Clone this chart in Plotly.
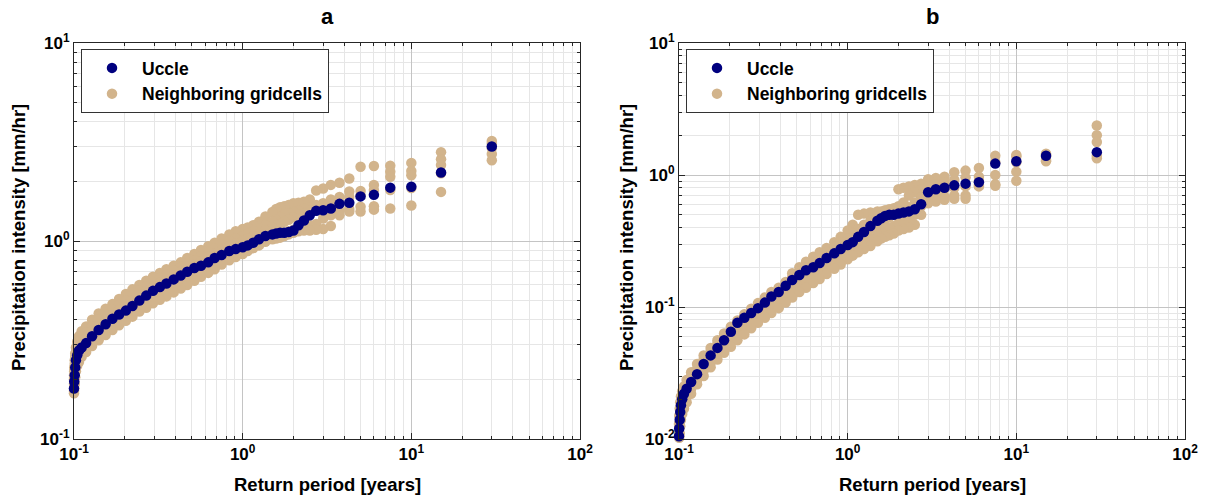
import plotly.graph_objects as go

# Return period [years] (same ranks for every series)
return_period = [30, 15, 10, 7.5, 6, 5,
                 4.286, 3.75, 3.333, 3.0,
                 2.727, 2.5, 2.308, 2.143, 2.0,
                 1.875, 1.765, 1.667, 1.579, 1.5,
                 1.364, 1.25, 1.154, 1.071, 1.0,
                 0.909, 0.833, 0.75, 0.682, 0.625,
                 0.566, 0.517, 0.469, 0.429, 0.390,
                 0.353, 0.323, 0.294, 0.268, 0.244,
                 0.222, 0.203, 0.185, 0.169, 0.154,
                 0.140, 0.128, 0.118, 0.111, 0.107,
                 0.1045, 0.1027, 0.1017, 0.101, 0.1003, 0.1]

# ---------- panel a ----------
uccle_a = [3.0, 2.22, 1.88, 1.86, 1.71, 1.68,
           1.56, 1.54, 1.46, 1.43,
           1.42, 1.35, 1.27, 1.20, 1.13,
           1.11, 1.10, 1.10, 1.09, 1.08,
           1.06, 1.02, 0.98, 0.95, 0.93,
           0.91, 0.89, 0.85, 0.82, 0.78,
           0.75, 0.73, 0.70, 0.67, 0.64,
           0.61, 0.585, 0.56, 0.53, 0.50,
           0.47, 0.445, 0.425, 0.405, 0.38,
           0.355, 0.33, 0.305, 0.29, 0.28,
           0.265, 0.25, 0.23, 0.21, 0.195, 0.18]
neigh_a_1 = [3.2, 2.81, 2.48, 2.40, 2.39, 2.37,
             2.07, 1.97, 1.92, 1.84,
             1.80, 1.62, 1.58, 1.56, 1.55,
             1.52, 1.50, 1.48, 1.45, 1.40,
             1.33, 1.25, 1.20, 1.17, 1.15,
             1.12, 1.08, 1.03, 0.98, 0.94,
             0.90, 0.86, 0.82, 0.78, 0.75,
             0.72, 0.69, 0.66, 0.63, 0.60,
             0.57, 0.54, 0.51, 0.48, 0.455,
             0.43, 0.40, 0.37, 0.35, 0.33,
             0.31, 0.29, 0.27, 0.25, 0.23, 0.21]
neigh_a_2 = [3.1, 2.59, 2.26, 2.24, 1.92, 1.79,
             1.78, 1.67, 1.62, 1.55,
             1.52, 1.48, 1.45, 1.42, 1.40,
             1.38, 1.36, 1.32, 1.28, 1.25,
             1.20, 1.16, 1.12, 1.09, 1.06,
             1.03, 1.00, 0.96, 0.92, 0.88,
             0.84, 0.80, 0.77, 0.74, 0.71,
             0.68, 0.65, 0.62, 0.59, 0.56,
             0.53, 0.50, 0.475, 0.45, 0.425,
             0.40, 0.37, 0.345, 0.325, 0.31,
             0.29, 0.275, 0.26, 0.24, 0.22, 0.20]
neigh_a_3 = [2.95, 2.42, 2.15, 2.11, 1.81, 1.70,
             1.67, 1.55, 1.48, 1.45,
             1.44, 1.42, 1.38, 1.35, 1.32,
             1.28, 1.25, 1.22, 1.20, 1.17,
             1.13, 1.09, 1.06, 1.03, 1.00,
             0.97, 0.94, 0.90, 0.86, 0.83,
             0.79, 0.76, 0.73, 0.70, 0.67,
             0.64, 0.615, 0.59, 0.56, 0.53,
             0.50, 0.475, 0.45, 0.425, 0.40,
             0.375, 0.35, 0.325, 0.305, 0.29,
             0.275, 0.26, 0.245, 0.225, 0.205, 0.19]
neigh_a_4 = [2.75, 2.2, 1.85, 1.81, 1.50, 1.49,
             1.45, 1.42, 1.35, 1.30,
             1.22, 1.20, 1.18, 1.16, 1.14,
             1.12, 1.10, 1.08, 1.07, 1.06,
             1.03, 0.99, 0.96, 0.93, 0.90,
             0.87, 0.84, 0.80, 0.77, 0.74,
             0.71, 0.68, 0.65, 0.62, 0.595,
             0.57, 0.545, 0.52, 0.495, 0.47,
             0.445, 0.42, 0.40, 0.38, 0.36,
             0.335, 0.315, 0.295, 0.28, 0.265,
             0.25, 0.235, 0.22, 0.205, 0.19, 0.175]
neigh_a_5 = [2.56, 1.77, 1.51, 1.46, 1.44, 1.41,
             1.41, 1.35, 1.19, 1.15,
             1.14, 1.13, 1.13, 1.12, 1.10,
             1.08, 1.06, 1.04, 1.03, 1.02,
             0.99, 0.95, 0.92, 0.89, 0.86,
             0.83, 0.80, 0.76, 0.72, 0.69,
             0.66, 0.63, 0.60, 0.575, 0.55,
             0.525, 0.505, 0.485, 0.46, 0.44,
             0.415, 0.395, 0.375, 0.355, 0.335,
             0.315, 0.295, 0.275, 0.26, 0.245,
             0.235, 0.22, 0.205, 0.19, 0.18, 0.17]

# ---------- panel b ----------
uccle_b = [1.49, 1.40, 1.27, 1.22, 0.88, 0.86,
           0.835, 0.80, 0.78, 0.74,
           0.60, 0.55, 0.53, 0.52, 0.51,
           0.50, 0.50, 0.49, 0.47, 0.45,
           0.41, 0.37, 0.34, 0.31, 0.295,
           0.275, 0.255, 0.235, 0.215, 0.20,
           0.19, 0.175, 0.16, 0.145, 0.13,
           0.12, 0.108, 0.098, 0.09, 0.083,
           0.076, 0.065, 0.056, 0.049, 0.043,
           0.037, 0.031, 0.027, 0.024, 0.022,
           0.020, 0.018, 0.016, 0.014, 0.012, 0.0105]
neigh_b_1 = [2.37, 1.45, 1.42, 1.40, 1.13, 1.08,
             1.05, 0.97, 0.95, 0.93,
             0.86, 0.84, 0.82, 0.80, 0.78,
             0.56, 0.55, 0.54, 0.53, 0.53,
             0.52, 0.51, 0.50, 0.42, 0.38,
             0.34, 0.31, 0.28, 0.26, 0.24,
             0.22, 0.20, 0.18, 0.155, 0.14,
             0.13, 0.118, 0.107, 0.097, 0.088,
             0.079, 0.071, 0.063, 0.056, 0.049,
             0.043, 0.037, 0.032, 0.028, 0.025,
             0.023, 0.021, 0.019, 0.017, 0.015, 0.013]
neigh_b_2 = [2.0, 1.43, 1.38, 1.25, 0.97, 0.96,
             0.92, 0.88, 0.85, 0.82,
             0.78, 0.74, 0.70, 0.62, 0.58,
             0.53, 0.52, 0.51, 0.50, 0.48,
             0.45, 0.42, 0.39, 0.36, 0.33,
             0.31, 0.285, 0.26, 0.24, 0.22,
             0.20, 0.185, 0.168, 0.152, 0.137,
             0.124, 0.112, 0.102, 0.093, 0.085,
             0.076, 0.068, 0.060, 0.053, 0.046,
             0.040, 0.034, 0.030, 0.026, 0.023,
             0.021, 0.019, 0.017, 0.015, 0.013, 0.011]
neigh_b_3 = [1.78, 1.38, 1.25, 1.0, 0.90, 0.82,
             0.80, 0.78, 0.75, 0.72,
             0.68, 0.62, 0.57, 0.54, 0.52,
             0.50, 0.48, 0.46, 0.44, 0.42,
             0.39, 0.36, 0.33, 0.30, 0.28,
             0.26, 0.24, 0.22, 0.205, 0.19,
             0.175, 0.162, 0.148, 0.135, 0.122,
             0.112, 0.102, 0.093, 0.085, 0.077,
             0.070, 0.062, 0.055, 0.048, 0.042,
             0.036, 0.031, 0.026, 0.023, 0.021,
             0.019, 0.017, 0.015, 0.013, 0.012, 0.0105]
neigh_b_4 = [1.40, 1.30, 1.06, 0.85, 0.84, 0.70,
             0.70, 0.69, 0.67, 0.65,
             0.58, 0.50, 0.47, 0.45, 0.43,
             0.41, 0.40, 0.39, 0.37, 0.355,
             0.33, 0.31, 0.29, 0.27, 0.255,
             0.235, 0.215, 0.197, 0.18, 0.168,
             0.155, 0.143, 0.13, 0.12, 0.108,
             0.099, 0.091, 0.083, 0.076, 0.069,
             0.062, 0.056, 0.050, 0.044, 0.038,
             0.033, 0.028, 0.024, 0.021, 0.019,
             0.017, 0.0155, 0.014, 0.0125, 0.011, 0.0098]
neigh_b_5 = [1.34, 1.27, 0.905, 0.83, 0.82, 0.66,
             0.66, 0.65, 0.63, 0.61,
             0.50, 0.42, 0.40, 0.39, 0.38,
             0.36, 0.35, 0.34, 0.33, 0.315,
             0.29, 0.275, 0.26, 0.245, 0.23,
             0.21, 0.195, 0.178, 0.163, 0.152,
             0.14, 0.13, 0.118, 0.108, 0.098,
             0.09, 0.083, 0.076, 0.069, 0.062,
             0.056, 0.05, 0.045, 0.04, 0.035,
             0.03, 0.026, 0.022, 0.019, 0.017,
             0.0155, 0.014, 0.0125, 0.011, 0.0102, 0.0095]

neigh_a = [neigh_a_1, neigh_a_2, neigh_a_3, neigh_a_4, neigh_a_5]
neigh_b = [neigh_b_1, neigh_b_2, neigh_b_3, neigh_b_4, neigh_b_5]

x_tickvals = [0.1, 1, 10, 100]
x_ticktext = ["10<sup>-1</sup>", "10<sup>0</sup>", "10<sup>1</sup>", "10<sup>2</sup>"]
ya_tickvals = [0.1, 1, 10]
ya_ticktext = ["10<sup>-1</sup>", "10<sup>0</sup>", "10<sup>1</sup>"]
yb_tickvals = [0.01, 0.1, 1, 10]
yb_ticktext = ["10<sup>-2</sup>", "10<sup>-1</sup>", "10<sup>0</sup>", "10<sup>1</sup>"]
panel_titles = ["a", "b"]
x_title = "Return period [years]"
y_title = "Precipitation intensity [mm/hr]"

NAVY = "#00007F"
TAN = "#D2B48C"
FONT = "Liberation Sans, Arial, sans-serif"
W, H = 1206, 498

fig = go.Figure()

for panel, (neigh, uccle, xa, ya, lg) in enumerate([
        (neigh_a, uccle_a, "x", "y", "legend"),
        (neigh_b, uccle_b, "x2", "y2", "legend2")]):
    for i, series in enumerate(neigh):
        fig.add_trace(go.Scatter(
            x=return_period, y=series, mode="markers", name="Neighboring gridcells",
            marker=dict(color=TAN, size=10.5, line=dict(width=0)),
            xaxis=xa, yaxis=ya, legend=lg, showlegend=(i == 0), legendrank=2,
            cliponaxis=False))
    fig.add_trace(go.Scatter(
        x=return_period, y=uccle, mode="markers", name="Uccle",
        marker=dict(color=NAVY, size=10.5, line=dict(width=0)),
        xaxis=xa, yaxis=ya, legend=lg, legendrank=1, cliponaxis=False))

minor_vals = [k * 10 ** e for e in range(-3, 3) for k in range(2, 10)]

def axis_style(tickvals, ticktext, rng, domain, anchor):
    return dict(
        type="log", range=rng, domain=domain, anchor=anchor, automargin=False,
        tickmode="array", tickvals=tickvals, ticktext=ticktext,
        tickfont=dict(family=FONT, size=17, color="black", weight="bold"),
        ticks="inside", ticklen=6, tickcolor="#262626",
        showline=True, linecolor="#262626", linewidth=1, mirror="ticks",
        showgrid=True, gridcolor="#c4c4c4", gridwidth=1,
        minor=dict(tickmode="array", tickvals=minor_vals, ticks="inside",
                   ticklen=3, tickcolor="#262626", showgrid=True,
                   gridcolor="#e6e6e6", gridwidth=1),
        zeroline=False, fixedrange=True)

xa_dom = [74 / W, 580 / W]
xb_dom = [679 / W, 1185 / W]
y_dom = [1 - 439 / H, 1 - 43 / H]

legend_style = dict(y=1 - 49 / H, xanchor="left", yanchor="top",
                    bgcolor="white", bordercolor="#333333", borderwidth=1,
                    font=dict(family=FONT, size=17.5, color="black", weight="bold"),
                    itemwidth=50, traceorder="normal", tracegroupgap=0)

fig.update_layout(
    width=W, height=H, margin=dict(l=0, r=0, t=0, b=0, autoexpand=False),
    paper_bgcolor="white", plot_bgcolor="white",
    font=dict(family=FONT, color="black"),
    xaxis=axis_style(x_tickvals, x_ticktext, [-1, 2], xa_dom, "y"),
    yaxis=axis_style(ya_tickvals, ya_ticktext, [-1, 1], y_dom, "x"),
    xaxis2=axis_style(x_tickvals, x_ticktext, [-1, 2], xb_dom, "y2"),
    yaxis2=axis_style(yb_tickvals, yb_ticktext, [-2, 1], y_dom, "x2"),
    legend=dict(x=81 / W, **legend_style),
    legend2=dict(x=686 / W, **legend_style),
    showlegend=True,
)

annotations = []
for cx, title in zip([(74 + 580) / 2, (679 + 1185) / 2], panel_titles):
    annotations.append(dict(x=cx / W, y=1 - 17 / H, xref="paper", yref="paper",
                            text=title, showarrow=False, xanchor="center", yanchor="middle",
                            font=dict(family=FONT, size=22, color="black", weight="bold")))
    annotations.append(dict(x=cx / W, y=1 - 484 / H, xref="paper", yref="paper",
                            text=x_title, showarrow=False, xanchor="center", yanchor="middle",
                            font=dict(family=FONT, size=18.5, color="black", weight="bold")))
for lx in [19, 627]:
    annotations.append(dict(x=lx / W, y=1 - 238 / H, xref="paper", yref="paper",
                            text=y_title, showarrow=False, textangle=-90,
                            xanchor="center", yanchor="middle",
                            font=dict(family=FONT, size=18.5, color="black", weight="bold")))
fig.update_layout(annotations=annotations)

fig.write_html("out.html")
